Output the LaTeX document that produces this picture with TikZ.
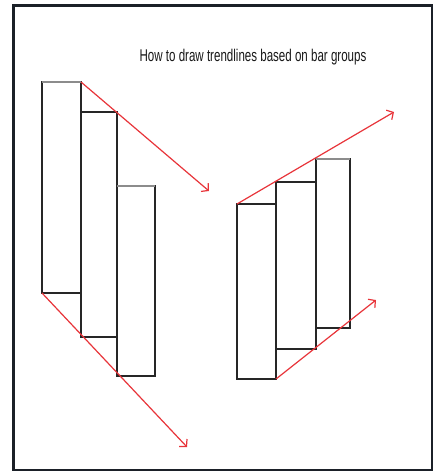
\documentclass[tikz,border=0pt]{standalone}
\usepackage{fontspec}
\setmainfont{Liberation Sans}
\usetikzlibrary{arrows.meta}
\definecolor{framecol}{HTML}{1B2028}
\definecolor{trend}{HTML}{E8343A}
\begin{document}
\begin{tikzpicture}[x=1pt,y=-1pt,
  bar/.style={draw=black!85,line width=1.3pt,fill=white,inner sep=0pt,outer sep=0pt,anchor=north west},
  captop/.style={draw=black!45,line width=2.6pt},
  trendline/.style={draw=trend,line width=1.2pt,-{Straight Barb[length=5pt,width=11pt,line width=1.2pt]}}]
\useasboundingbox (0,0) rectangle (435,472);
\fill[white] (0,0) rectangle (435,472);
\draw[framecol,line width=2.8pt] (13.5,5.5) rectangle (432,470);
\node[font=\fontsize{17}{17}\selectfont,xscale=0.68,anchor=center,text=black!90] (title) at (253,57) {How to draw trendlines based on bar groups};
% left group
\node[bar,minimum width=39pt,minimum height=211pt] (b1) at (42,82) {};
\node[bar,minimum width=36pt,minimum height=225pt] (b2) at (81,112) {};
\node[bar,minimum width=38pt,minimum height=190pt] (b3) at (117,186) {};
\draw[captop] (b1.north west) -- (b1.north east);
\draw[captop] (b3.north west) -- (b3.north east);
\coordinate (t1) at (209,191);
\coordinate (t2) at (187,447);
\draw[trendline] (b1.north east) -- (t1);
\draw[trendline] (b1.south west) -- (t2);
% right group
\node[bar,minimum width=39pt,minimum height=175pt] (c1) at (237,204) {};
\node[bar,minimum width=40pt,minimum height=167pt] (c2) at (276,182) {};
\node[bar,minimum width=34pt,minimum height=169pt] (c3) at (316,159) {};
\draw[captop] (c3.north west) -- (c3.north east);
\coordinate (t3) at (394,112);
\coordinate (t4) at (376,300);
\draw[trendline] (c1.north west) -- (t3);
\draw[trendline] (c1.south east) -- (t4);
\end{tikzpicture}
\end{document}
